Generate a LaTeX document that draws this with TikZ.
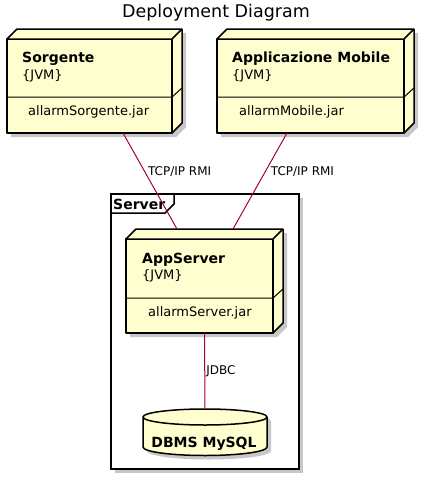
\documentclass[tikz,border=0pt]{standalone}
\usepackage{fontspec}
\setmainfont{DejaVu Sans}
\definecolor{umlfill}{HTML}{FEFECE}
\definecolor{umlline}{HTML}{A80036}
\begin{document}
\begin{tikzpicture}[x=1pt,y=-1pt,
    nodeface/.style={draw=black,line width=1.5pt,fill=umlfill,line join=round},
    frontbox/.style={nodeface,rectangle,inner sep=0pt,outer sep=0pt},
    shadowfill/.style={fill=black,opacity=0.22,draw=none},
    link/.style={draw=umlline,line width=1pt},
    txt/.style={inner sep=0pt,font=\fontsize{13}{15}\selectfont},
    bold/.style={inner sep=0pt,font=\fontsize{14}{16}\selectfont\bfseries},
    lbl/.style={inner sep=0pt,font=\fontsize{12}{14}\selectfont}]

    \useasboundingbox[fill=white] (0,0) rectangle (434,480);

    % Title
    \node[inner sep=0pt,font=\fontsize{17.5}{20}\selectfont,anchor=base]
    (title) at (216,17) {Deployment Diagram};

    % Server frame
    \fill[shadowfill] (115,198) rectangle (303,473);
    \draw[line width=1.5pt,fill=white] (111,194) rectangle (299,469);
    \draw[line width=1.5pt] (111,213) -- (165,213) -- (174,204) -- (174,194);
    \node[bold,anchor=base west] (server) at (113,209) {Server};

    % Shadows
    \begin{scope}[shift={(4,4)}]
        \fill[shadowfill] (7,39) -- (17,29) -- (182,29) -- (182,123)
        -- (172,133) -- (7,133) -- cycle;
        \fill[shadowfill] (217,39) -- (227,29) -- (414,29) -- (414,123)
        -- (404,133) -- (217,133) -- cycle;
        \fill[shadowfill] (126,239) -- (136,229) -- (283,229) -- (283,323)
        -- (273,333) -- (126,333) -- cycle;
        \fill[shadowfill] (143,417) -- (143,447)
        arc[start angle=180,end angle=0,x radius=62,y radius=8.5]
        -- (267,417)
        arc[start angle=0,end angle=-180,x radius=62,y radius=8] -- cycle;
    \end{scope}

    % Sorgente
    \node[frontbox,minimum width=165,minimum height=94] (sorgente) at (89.5,86) {};
    \draw[nodeface] (sorgente.north west) -- ++(10,-10) -- ++(165,0) -- ++(0,94)
    -- (sorgente.south east) -- (sorgente.north east) -- cycle;
    \draw[nodeface] (sorgente.north east) -- ++(10,-10);
    \draw[line width=1pt] (7,97) -- (172,97) -- ++(10,-9);
    \node[bold,anchor=base west] (sorgentename) at (22,62) {Sorgente};
    \node[txt,anchor=base west] (sorgentejvm) at (22,79) {\{JVM\}};
    \node[txt,anchor=base west] (sorgentejar) at (28,115) {allarmSorgente.jar};

    % Applicazione Mobile
    \node[frontbox,minimum width=187,minimum height=94] (mobile) at (310.5,86) {};
    \draw[nodeface] (mobile.north west) -- ++(10,-10) -- ++(187,0) -- ++(0,94)
    -- (mobile.south east) -- (mobile.north east) -- cycle;
    \draw[nodeface] (mobile.north east) -- ++(10,-10);
    \draw[line width=1pt] (217,97) -- (404,97) -- ++(10,-9);
    \node[bold,anchor=base west] (mobilename) at (232,62) {Applicazione Mobile};
    \node[txt,anchor=base west] (mobilejvm) at (232,79) {\{JVM\}};
    \node[txt,anchor=base west] (mobilejar) at (239,115) {allarmMobile.jar};

    % AppServer
    \node[frontbox,minimum width=147,minimum height=94] (appserver) at (199.5,286) {};
    \draw[nodeface] (appserver.north west) -- ++(10,-10) -- ++(147,0) -- ++(0,94)
    -- (appserver.south east) -- (appserver.north east) -- cycle;
    \draw[nodeface] (appserver.north east) -- ++(10,-10);
    \draw[line width=1pt] (126,298) -- (273,298) -- ++(10,-9);
    \node[bold,anchor=base west] (appservername) at (142,263) {AppServer};
    \node[txt,anchor=base west] (appserverjvm) at (142,279) {\{JVM\}};
    \node[txt,anchor=base west] (appserverjar) at (148,316) {allarmServer.jar};

    % DBMS
    \node[inner sep=0pt,outer sep=0pt,minimum width=124,minimum height=46]
    (dbms) at (205,432) {};
    \draw[nodeface] (143,417) -- (143,447)
    arc[start angle=180,end angle=0,x radius=62,y radius=8.5]
    -- (267,417)
    arc[start angle=0,end angle=-180,x radius=62,y radius=8] -- cycle;
    \draw[nodeface,fill=none] (143,417)
    arc[start angle=180,end angle=0,x radius=62,y radius=8];
    \node[bold,anchor=base] (dbmsname) at (204,447) {DBMS MySQL};

    % Links
    \draw[link] ([xshift=33.5]sorgente.south)
    -- node[lbl,pos=0.4,right=3pt] (rmisorgente) {TCP/IP RMI}
    ([shift={(-22.5,-10)}]appserver.north);
    \draw[link] ([xshift=-23.5]mobile.south)
    -- node[lbl,pos=0.4,right=5pt] (rmimobile) {TCP/IP RMI}
    ([shift={(33.5,-10)}]appserver.north);
    \draw[link] ([xshift=5]appserver.south)
    -- node[lbl,midway,right=1pt] (jdbc) {JDBC}
    (dbms.north);

\end{tikzpicture}
\end{document}
